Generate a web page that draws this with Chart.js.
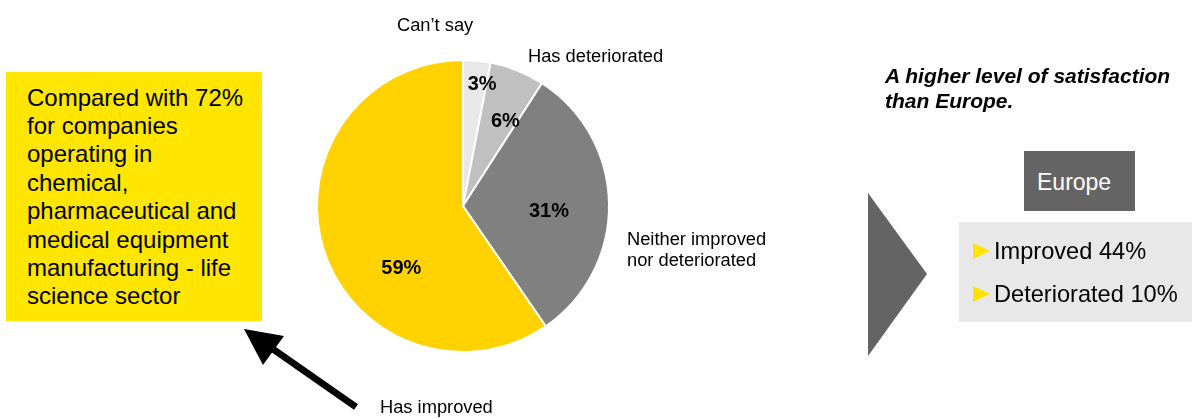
<!DOCTYPE html>
<html>
<head>
<meta charset="utf-8">
<script src="https://cdn.jsdelivr.net/npm/chart.js@4"></script>
<style>
	body { margin: 0; background: #fff; }
	#wrap { position: relative; width: 1192px; height: 419px; overflow: hidden; font-family: "Liberation Sans", Arial, sans-serif; }
	#chart { position: absolute; left: 0; top: 0; }
	.note { position: absolute; left: 6px; top: 72px; width: 235px; height: 237.5px; padding: 11.5px 0 0 21px; background: #ffe600; color: #000; font-size: 24px; line-height: 28.4px; white-space: nowrap; }
	.claim { position: absolute; left: 885px; top: 63px; font-size: 21px; line-height: 25px; font-weight: bold; font-style: italic; color: #000; white-space: nowrap; }
	.europe { position: absolute; left: 1024px; top: 151px; width: 98px; height: 42px; padding: 18px 0 0 13px; background: #646464; color: #fff; font-size: 23px; line-height: 26px; }
	.facts { position: absolute; left: 959px; top: 222px; width: 233px; height: 100px; background: #e8e8e8; }
	.fact { position: absolute; left: 35px; font-size: 23.6px; line-height: 26px; color: #000; white-space: nowrap; }
	.tri { position: absolute; left: 14px; width: 0; height: 0; border-left: 17px solid #ffe300; border-top: 8px solid transparent; border-bottom: 8px solid transparent; }
	svg { position: absolute; left: 0; top: 0; }
</style>
</head>
<body>
<div id="wrap">
	<canvas id="chart" width="1192" height="419"></canvas>
	<svg width="1192" height="419">
		<polygon points="868,193 927,274 868,356" fill="#646464"></polygon>
		<line x1="356" y1="407" x2="270" y2="347" stroke="#000" stroke-width="7"></line>
		<polygon points="244,329 284,336 263,365" fill="#000"></polygon>
	</svg>
	<div class="note">Compared with 72%<br>for companies<br>operating in<br>chemical,<br>pharmaceutical and<br>medical equipment<br>manufacturing - life<br>science sector</div>
	<div class="claim">A higher level of satisfaction<br>than Europe.</div>
	<div class="europe">Europe</div>
	<div class="facts">
		<div class="tri" style="top: 21px;"></div>
		<div class="fact" style="top: 16px;">Improved 44%</div>
		<div class="tri" style="top: 64px;"></div>
		<div class="fact" style="top: 59px;">Deteriorated 10%</div>
	</div>
</div>
<script>

const categories = [ 'Can’t say', 'Has deteriorated', 'Neither improved nor deteriorated', 'Has improved' ];
const shares = [ 3, 6, 31, 59 ];
const shareLabels = [ '3%', '6%', '31%', '59%' ];
const sliceColours = [ '#e8e8e8', '#c0c0c0', '#808080', '#ffd200' ];

// where each percentage sits: fraction of the radius, angle nudge in degrees
const labelPlacement = [
	{ r: 0.84, turn: 3.5 },
	{ r: 0.65, turn: 4.7 },
	{ r: 0.59, turn: 4.5 },
	{ r: 0.6, turn: -28 }
];

// category captions around the pie: [ lines, left x, first baseline ]
const captions = [
	[ [ categories[ 0 ] ], 397, 31 ],
	[ [ categories[ 1 ] ], 528, 62 ],
	[ [ 'Neither improved', 'nor deteriorated' ], 627, 245 ],
	[ [ categories[ 3 ] ], 380, 413 ]
];

const pieLabels = {
	id: 'pieLabels',
	afterDatasetsDraw ( chart ) {

		const ctx = chart.ctx;
		const arcs = chart.getDatasetMeta( 0 ).data;

		ctx.save();
		ctx.fillStyle = '#000';
		ctx.font = 'bold 20px "Liberation Sans", Arial, sans-serif';
		ctx.textAlign = 'center';
		ctx.textBaseline = 'middle';

		arcs.forEach( ( arc, i ) => {

			const p = labelPlacement[ i ];
			const mid = ( arc.startAngle + arc.endAngle ) / 2 + p.turn * Math.PI / 180;
			const r = arc.outerRadius * p.r;
			ctx.fillText( shareLabels[ i ], arc.x + Math.cos( mid ) * r, arc.y + Math.sin( mid ) * r );

		} );

		ctx.font = '18.3px "Liberation Sans", Arial, sans-serif';
		ctx.textAlign = 'left';
		ctx.textBaseline = 'alphabetic';

		captions.forEach( c => {

			c[ 0 ].forEach( ( line, j ) => ctx.fillText( line, c[ 1 ], c[ 2 ] + j * 21 ) );

		} );

		ctx.restore();

	}
};

new Chart( document.getElementById( 'chart' ), {
	type: 'pie',
	data: {
		labels: categories,
		datasets: [ {
			data: shares,
			backgroundColor: sliceColours,
			borderColor: '#ffffff',
			borderWidth: 2
		} ]
	},
	options: {
		responsive: false,
		animation: false,
		layout: {
			padding: { left: 316, top: 59, right: 582, bottom: 66 }
		},
		plugins: {
			legend: { display: false },
			tooltip: { enabled: false }
		}
	},
	plugins: [ pieLabels ]
} );

</script>
</body>
</html>
